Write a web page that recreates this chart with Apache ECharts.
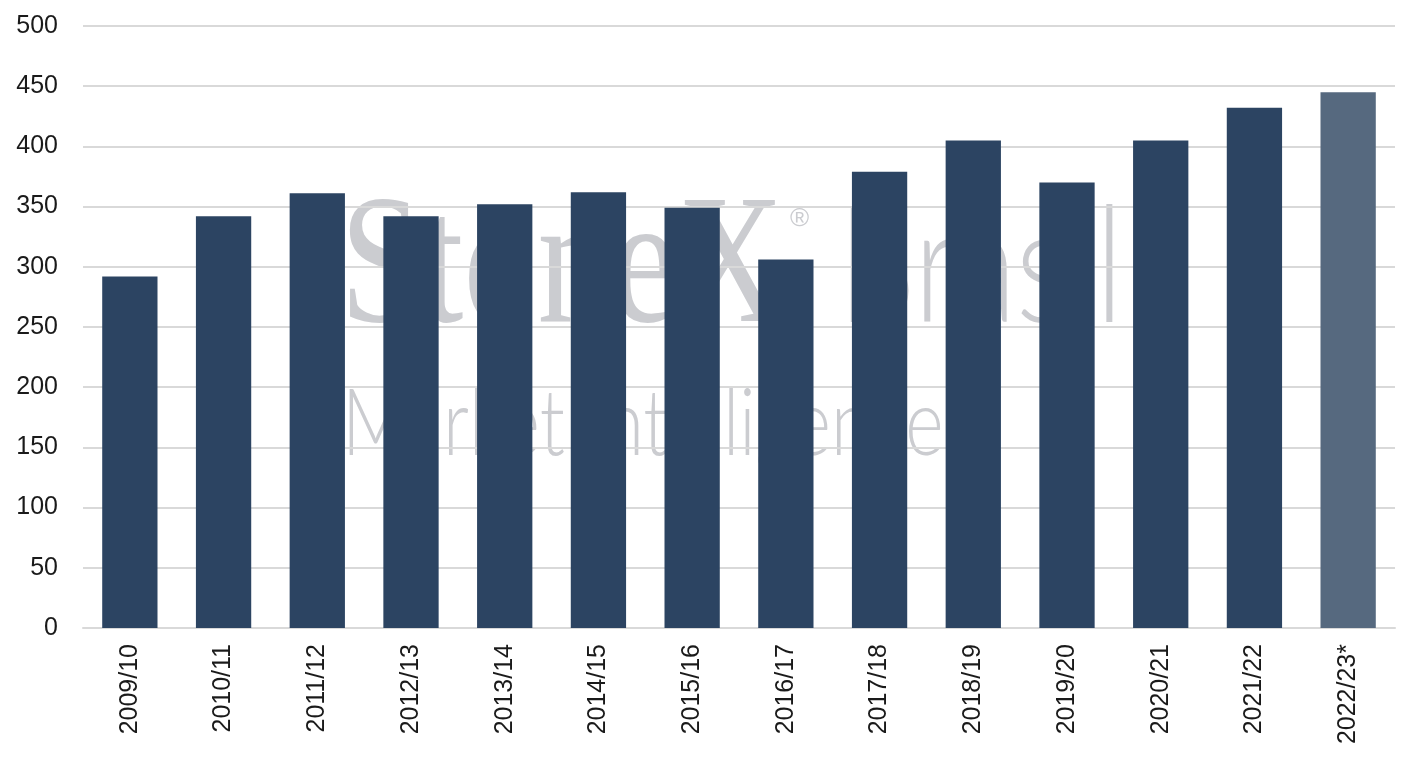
<!DOCTYPE html>
<html>
<head>
<meta charset="utf-8">
<title>Bar chart</title>
<script src="https://cdn.jsdelivr.net/npm/echarts@6/dist/echarts.min.js"></script>
<style>
  html, body { margin: 0; padding: 0; background: #fff; }
  #chart { width: 1418px; height: 767px; }
</style>
</head>
<body>
<div id="chart"></div>
<script>
// safras
var categories = ['2009/10', '2010/11', '2011/12', '2012/13', '2013/14', '2014/15', '2015/16',
                  '2016/17', '2017/18', '2018/19', '2019/20', '2020/21', '2021/22', '2022/23*'];
var values = [292, 342, 361, 342, 352, 362, 349, 306, 379, 405, 370, 405, 432, 445];
var yTicks = [0, 50, 100, 150, 200, 250, 300, 350, 400, 450, 500];

var barColor = '#2c4462';
var lastColor = '#56697f';
var wmColor = '#cbccd0';

var chart = echarts.init(document.getElementById('chart'));

var barData = values.map(function (v, i) {
  return {
    value: v,
    itemStyle: { color: i === values.length - 1 ? lastColor : barColor }
  };
});

var option = {
  animation: false,
  backgroundColor: '#fff',
  grid: { left: 83, right: 23, top: 26, bottom: 139 },
  // marca d'agua
  graphic: [
    {
      type: 'text', x: 340, y: 180, z: -10, scaleX: 0.8, silent: true,
      style: { text: 'StoneX', font: '185px "Liberation Serif"', fill: wmColor, verticalAlign: 'top' }
    },
    {
      type: 'text', x: 790, y: 206, z: -10, silent: true,
      style: { text: '®', font: '26px "Liberation Sans"', fill: wmColor, verticalAlign: 'top' }
    },
    {
      type: 'text', x: 838, y: 189, z: -10, scaleX: 0.76, silent: true,
      style: { text: 'Brasil', font: '300 162px Lato', fill: wmColor, verticalAlign: 'top' }
    },
    {
      type: 'text', x: 342, y: 378, z: -10, scaleX: 0.79, silent: true,
      style: { text: 'Market Intelligence', font: '300 93px Lato', fill: wmColor, verticalAlign: 'top' }
    }
  ],
  xAxis: {
    type: 'category',
    data: categories,
    axisLine: { show: true, lineStyle: { color: '#d9d9d9', width: 2 } },
    axisTick: { show: false },
    axisLabel: {
      rotate: 90,
      interval: 0,
      margin: 16,
      color: '#1a1a1a',
      fontSize: 25,
      fontFamily: '"Liberation Sans", Arial, sans-serif'
    }
  },
  yAxis: {
    type: 'value',
    min: yTicks[0],
    max: yTicks[yTicks.length - 1],
    interval: 50,
    axisLine: { show: false },
    axisTick: { show: false },
    splitLine: { lineStyle: { color: '#d9d9d9', width: 2 } },
    axisLabel: {
      margin: 25,
      color: '#1a1a1a',
      fontSize: 25,
      fontFamily: '"Liberation Sans", Arial, sans-serif'
    }
  },
  series: [
    {
      type: 'bar',
      data: barData,
      barWidth: '59%',
      z: 3
    }
  ]
};

chart.setOption(option);
</script>
</body>
</html>
